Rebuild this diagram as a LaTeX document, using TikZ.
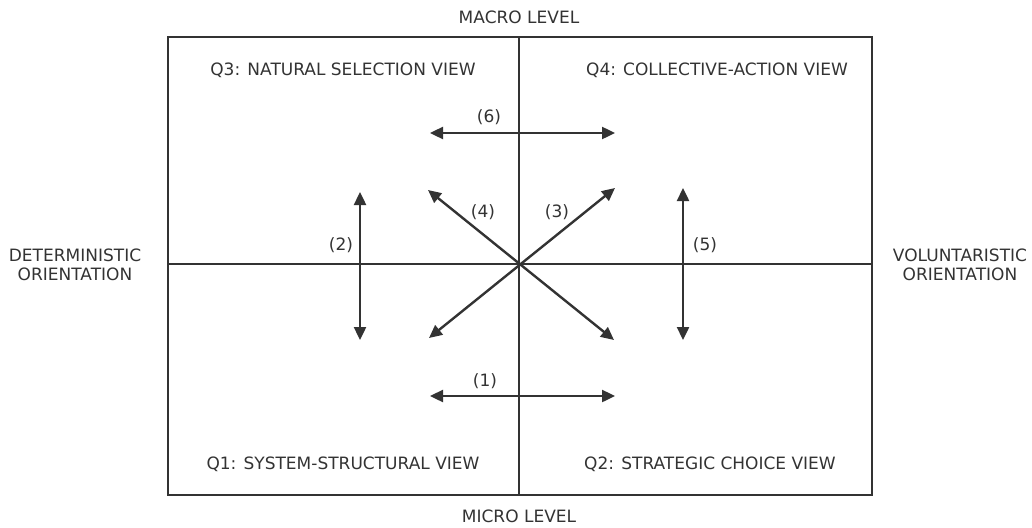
\documentclass[tikz,border=0pt]{standalone}
\usepackage{fontspec}
\setmainfont{DejaVu Sans}
\usetikzlibrary{arrows.meta}
\definecolor{ink}{HTML}{333333}
\tikzset{
  lbl/.style={font=\fontsize{17}{19}\selectfont, text=ink, inner sep=0pt},
  frame/.style={draw=ink, line width=1.6pt},
  dbl/.style={draw=ink, line width=2.4pt, {Triangle[length=13pt,width=12pt]}-{Triangle[length=13pt,width=12pt]}}
}
\begin{document}
\begin{tikzpicture}[x=1pt,y=-1pt]
\useasboundingbox (0,0) rectangle (1032,527);
% frame and axes
\draw[frame] (168,37) rectangle (872,495);
\coordinate (top) at (519,37);
\coordinate (bot) at (519,495);
\coordinate (lft) at (168,264);
\coordinate (rgt) at (872,264);
\coordinate (c) at (519,264);
\draw[frame] (top) -- (bot);
\draw[frame] (lft) -- (rgt);
% arrows
\coordinate (a6l) at (430,133); \coordinate (a6r) at (615,133);
\coordinate (a1l) at (430,396); \coordinate (a1r) at (615,396);
\coordinate (a2t) at (360,192); \coordinate (a2b) at (360,340);
\coordinate (a5t) at (683,188); \coordinate (a5b) at (683,340);
\coordinate (ul) at (428,190); \coordinate (lr) at (614,340);
\coordinate (ur) at (615,188); \coordinate (ll) at (429,338);
\draw[dbl] (a6l) -- (a6r);
\draw[dbl] (a1l) -- (a1r);
\draw[dbl] (a2t) -- (a2b);
\draw[dbl] (a5t) -- (a5b);
\draw[dbl] (ul) -- (lr);
\draw[dbl] (ll) -- (ur);
% labels
\node[lbl] (l6) at (489,117) {(6)};
\node[lbl] (l4) at (483,212) {(4)};
\node[lbl] (l3) at (557,212) {(3)};
\node[lbl] (l2) at (341,245) {(2)};
\node[lbl] (l5) at (705,245) {(5)};
\node[lbl] (l1) at (485,381) {(1)};
\node[lbl] (q3) at (343,70) {Q3: NATURAL SELECTION VIEW};
\node[lbl] (q4) at (717,70) {Q4: COLLECTIVE-ACTION VIEW};
\node[lbl] (q1) at (343,464) {Q1: SYSTEM-STRUCTURAL VIEW};
\node[lbl] (q2) at (710,464) {Q2: STRATEGIC CHOICE VIEW};
\node[lbl] (macro) at (519,17) {MACRO LEVEL};
\node[lbl] (micro) at (519,516) {MICRO LEVEL};
\node[lbl, align=center] (det) at (75,265) {DETERMINISTIC\\ORIENTATION};
\node[lbl, align=center] (vol) at (960,265) {VOLUNTARISTIC\\ORIENTATION};
\end{tikzpicture}
\end{document}
